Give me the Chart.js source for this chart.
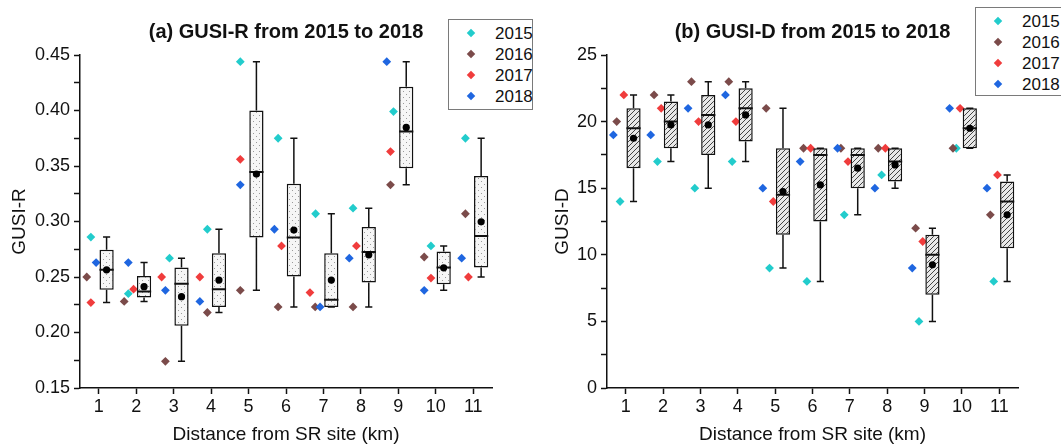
<!DOCTYPE html>
<html>
<head>
<meta charset="utf-8">
<title>GUSI-R and GUSI-D, 2015-2018</title>
<script src="https://cdn.jsdelivr.net/npm/chart.js@4.4.1/dist/chart.umd.min.js"></script>
<style>
    html, body { margin: 0; padding: 0; background: #fff; }
    #wrap { position: relative; width: 1061px; height: 447px; overflow: hidden; font-family: "Liberation Sans", Arial, sans-serif; }
    .panel { position: absolute; top: 0; height: 447px; }
    .legend { position: absolute; border: 1px solid #7a7a7a; background: #fff; box-sizing: border-box; }
    .legend .row { position: absolute; left: 0; right: 0; height: 21px; }
    .legend .mk { position: absolute; top: 7px; width: 6px; height: 6px; transform: rotate(45deg); }
    .legend .tx { position: absolute; left: 46px; top: 0; line-height: 21px; font-size: 17px; color: #111; }
</style>
</head>
<body>
<div id="wrap">
    <div class="panel" style="left:0;width:530px"><canvas id="chartR" width="530" height="447"></canvas></div>
    <div class="panel" style="left:530px;width:531px"><canvas id="chartD" width="531" height="447"></canvas></div>
    <div class="legend" id="legendR" style="left:448px;top:19px;width:85px;height:91px"></div>
    <div class="legend" id="legendD" style="left:975px;top:7px;width:95px;height:89px"></div>
</div>
<script>
// distance from SR site (km)
const sites = [1, 2, 3, 4, 5, 6, 7, 8, 9, 10, 11];
const years = ['2015', '2016', '2017', '2018'];
const yearColors = ['#22cccc', '#7b4b4a', '#f03c3c', '#1f66e0'];

// GUSI-R per site
const gusiR2015 = [0.286, 0.235, 0.267, 0.293, 0.444, 0.375, 0.307, 0.312, 0.399, 0.278, 0.375];
const gusiR2016 = [0.250, 0.228, 0.174, 0.218, 0.238, 0.223, 0.223, 0.223, 0.333, 0.268, 0.307];
const gusiR2017 = [0.227, 0.239, 0.250, 0.250, 0.356, 0.278, 0.236, 0.278, 0.363, 0.249, 0.250];
const gusiR2018 = [0.263, 0.263, 0.238, 0.228, 0.333, 0.293, 0.223, 0.267, 0.444, 0.238, 0.267];

// GUSI-D per site
const gusiD2015 = [14, 17, 15, 17, 9, 8, 13, 16, 5, 18, 8];
const gusiD2016 = [20, 22, 23, 23, 21, 18, 18, 18, 12, 18, 13];
const gusiD2017 = [22, 21, 20, 20, 14, 18, 17, 18, 11, 21, 16];
const gusiD2018 = [19, 19, 21, 22, 15, 17, 18, 15, 9, 21, 15];

// sideways spread of the yearly points left of each box (in km units)
const jitterR2015 = [-0.21, -0.21, -0.11, -0.10, -0.22, -0.21, -0.21, -0.21, -0.13, -0.13, -0.21];
const jitterR2016 = [-0.32, -0.32, -0.22, -0.10, -0.22, -0.21, -0.22, -0.21, -0.21, -0.31, -0.21];
const jitterR2017 = [-0.21, -0.07, -0.32, -0.30, -0.22, -0.12, -0.36, -0.12, -0.21, -0.13, -0.13];
const jitterR2018 = [-0.07, -0.21, -0.22, -0.30, -0.22, -0.31, -0.09, -0.31, -0.31, -0.31, -0.31];
const jitterD = [-0.15, -0.24, -0.05, -0.33];

// axis ticks
const rMajorTicks = [0.15, 0.20, 0.25, 0.30, 0.35, 0.40, 0.45];
const rMinorTicks = [0.175, 0.225, 0.275, 0.325, 0.375, 0.425];
const dMajorTicks = [0, 5, 10, 15, 20, 25];
const dMinorTicks = [2.5, 7.5, 12.5, 17.5, 22.5];

const boxShift = 0.21;
const boxHalf = 0.19;
const capHalf = 0.095;
const FONT = '"Liberation Sans", Arial, sans-serif';
const INK = '#111';

Chart.defaults.font.family = FONT;
Chart.defaults.color = INK;

const median = arr => {
    const s = arr.slice().sort((a, b) => a - b);
    const n = s.length;
    return n % 2 ? s[(n - 1) / 2] : (s[n / 2 - 1] + s[n / 2]) / 2;
};

const boxStats = vals => {
    const s = vals.slice().sort((a, b) => a - b);
    const n = s.length;
    return {
        min: s[0],
        max: s[n - 1],
        q1: median(s.slice(0, Math.floor(n / 2))),
        q3: median(s.slice(Math.ceil(n / 2))),
        med: median(s),
        mean: s.reduce((a, b) => a + b, 0) / n
    };
};

const dotPattern = () => {
    const c = document.createElement('canvas');
    c.width = 6; c.height = 6;
    const g = c.getContext('2d');
    g.fillStyle = '#f6f6f6';
    g.fillRect(0, 0, 6, 6);
    g.fillStyle = '#9a9a9a';
    g.fillRect(1, 1, 1, 1);
    g.fillRect(4, 4, 1, 1);
    return g.createPattern(c, 'repeat');
};

const hatchPattern = () => {
    const s = 5;
    const c = document.createElement('canvas');
    c.width = s; c.height = s;
    const g = c.getContext('2d');
    g.fillStyle = '#e8e8e8';
    g.fillRect(0, 0, s, s);
    g.strokeStyle = '#444';
    g.lineWidth = 1;
    g.beginPath();
    g.moveTo(0, s); g.lineTo(s, 0);
    g.moveTo(-1, 1); g.lineTo(1, -1);
    g.moveTo(s - 1, s + 1); g.lineTo(s + 1, s - 1);
    g.stroke();
    return g.createPattern(c, 'repeat');
};

const buildChart = (canvasId, p) => {
    // one row of values per site, across the four years
    const stats = sites.map((s, i) => boxStats(p.series.map(ser => ser[i])));
    const gap = s => ({ x: s, y: null });

    const whiskers = [];
    const medians = [];
    sites.forEach((s, i) => {
        const cx = s + boxShift;
        const st = stats[i];
        whiskers.push({ x: cx, y: st.min }, { x: cx, y: st.q1 }, gap(cx));
        whiskers.push({ x: cx, y: st.q3 }, { x: cx, y: st.max }, gap(cx));
        whiskers.push({ x: cx - capHalf, y: st.max }, { x: cx + capHalf, y: st.max }, gap(cx));
        whiskers.push({ x: cx - capHalf, y: st.min }, { x: cx + capHalf, y: st.min }, gap(cx));
        medians.push({ x: cx - boxHalf, y: st.med }, { x: cx + boxHalf, y: st.med }, gap(cx));
    });

    const yearSets = years.map((yr, k) => ({
        type: 'scatter',
        label: yr,
        data: sites.map((s, i) => ({ x: s + p.jitter[k][i], y: p.series[k][i] })),
        pointStyle: 'rectRot',
        pointRadius: 4.4,
        backgroundColor: yearColors[k],
        borderColor: yearColors[k],
        borderWidth: 0,
        order: 7 - k
    }));

    const yTicks = p.major.concat(p.minor).sort((a, b) => a - b);
    const isMajor = v => p.major.some(m => Math.abs(m - v) < 1e-9);

    return new Chart(document.getElementById(canvasId), {
        type: 'scatter',
        data: {
            datasets: [
                {
                    type: 'scatter', label: 'mean',
                    data: sites.map((s, i) => ({ x: s + boxShift, y: stats[i].mean })),
                    pointStyle: 'circle', pointRadius: 3.6,
                    backgroundColor: '#000', borderColor: '#000', borderWidth: 0,
                    order: 0
                },
                {
                    type: 'scatter', label: 'median', data: medians,
                    showLine: true, spanGaps: false, pointRadius: 0,
                    borderColor: INK, borderWidth: 2, order: 1
                },
                {
                    type: 'bar', label: 'box',
                    data: sites.map((s, i) => ({ x: s + boxShift, y: [stats[i].q1, stats[i].q3] })),
                    backgroundColor: p.fill, borderColor: INK, borderWidth: 1.5,
                    borderSkipped: false, categoryPercentage: 1, barPercentage: 2 * boxHalf,
                    order: 2
                },
                {
                    type: 'scatter', label: 'whisker', data: whiskers,
                    showLine: true, spanGaps: false, pointRadius: 0,
                    borderColor: INK, borderWidth: 1.5, order: 3
                },
                ...yearSets
            ]
        },
        options: {
            responsive: false,
            animation: false,
            events: [],
            layout: { padding: { left: 0, right: p.rightPad, top: 0, bottom: 0 } },
            plugins: {
                legend: { display: false },
                tooltip: { enabled: false },
                title: {
                    display: true,
                    text: p.title,
                    fullSize: false,
                    color: INK,
                    font: { size: 20, weight: 'bold' },
                    padding: { top: 20, bottom: 11 }
                }
            },
            scales: {
                x: {
                    type: 'linear',
                    min: 0.5,
                    max: 11.5,
                    offset: false,
                    afterBuildTicks: scale => { scale.ticks = sites.map(v => ({ value: v })); },
                    afterFit: scale => { scale.height = 59; },
                    border: { display: true, color: INK, width: 1.5 },
                    grid: { offset: false, drawOnChartArea: false, drawTicks: true, tickLength: 6, tickColor: INK, tickWidth: 1.5 },
                    ticks: { autoSkip: false, maxRotation: 0, padding: 2, color: INK, font: { size: 18 }, callback: v => String(v) },
                    title: { display: true, text: 'Distance from SR site (km)', color: INK, font: { size: 19 }, padding: { top: 0, bottom: 1 } }
                },
                y: {
                    type: 'linear',
                    min: p.yMin,
                    max: p.yMax,
                    afterBuildTicks: scale => { scale.ticks = yTicks.map(v => ({ value: v })); },
                    afterFit: scale => { scale.width = p.yWidth; },
                    border: { display: true, color: INK, width: 1.5 },
                    grid: { drawOnChartArea: false, drawTicks: true, tickLength: 6, tickColor: INK, tickWidth: 1.5 },
                    ticks: {
                        autoSkip: false, padding: 4, color: INK, font: { size: 18 },
                        callback: v => isMajor(v) ? p.fmt(v) : ''
                    },
                    title: { display: true, text: p.yTitle, color: INK, font: { size: 19 }, padding: { top: p.yTitlePad, bottom: 0 } }
                }
            }
        }
    });
};

const buildLegend = id => {
    const box = document.getElementById(id);
    years.forEach((yr, k) => {
        const row = document.createElement('div');
        row.className = 'row';
        row.style.top = (3 + 21 * k) + 'px';
        const mk = document.createElement('div');
        mk.className = 'mk';
        mk.style.left = '19px';
        mk.style.background = yearColors[k];
        const tx = document.createElement('div');
        tx.className = 'tx';
        tx.textContent = yr;
        row.appendChild(mk);
        row.appendChild(tx);
        box.appendChild(row);
    });
};

buildChart('chartR', {
    series: [gusiR2015, gusiR2016, gusiR2017, gusiR2018],
    jitter: [jitterR2015, jitterR2016, jitterR2017, jitterR2018],
    title: '(a) GUSI-R from 2015 to 2018',
    yTitle: 'GUSI-R',
    yMin: 0.15, yMax: 0.45,
    major: rMajorTicks, minor: rMinorTicks,
    fmt: v => v.toFixed(2),
    fill: dotPattern(),
    yWidth: 80, yTitlePad: 8, rightPad: 38
});

buildChart('chartD', {
    series: [gusiD2015, gusiD2016, gusiD2017, gusiD2018],
    jitter: years.map((yr, k) => sites.map(() => jitterD[k])),
    title: '(b) GUSI-D from 2015 to 2018',
    yTitle: 'GUSI-D',
    yMin: 0, yMax: 25,
    major: dMajorTicks, minor: dMinorTicks,
    fmt: v => String(v),
    fill: hatchPattern(),
    yWidth: 77, yTitlePad: 21, rightPad: 43
});

buildLegend('legendR');
buildLegend('legendD');
</script>
</body>
</html>
